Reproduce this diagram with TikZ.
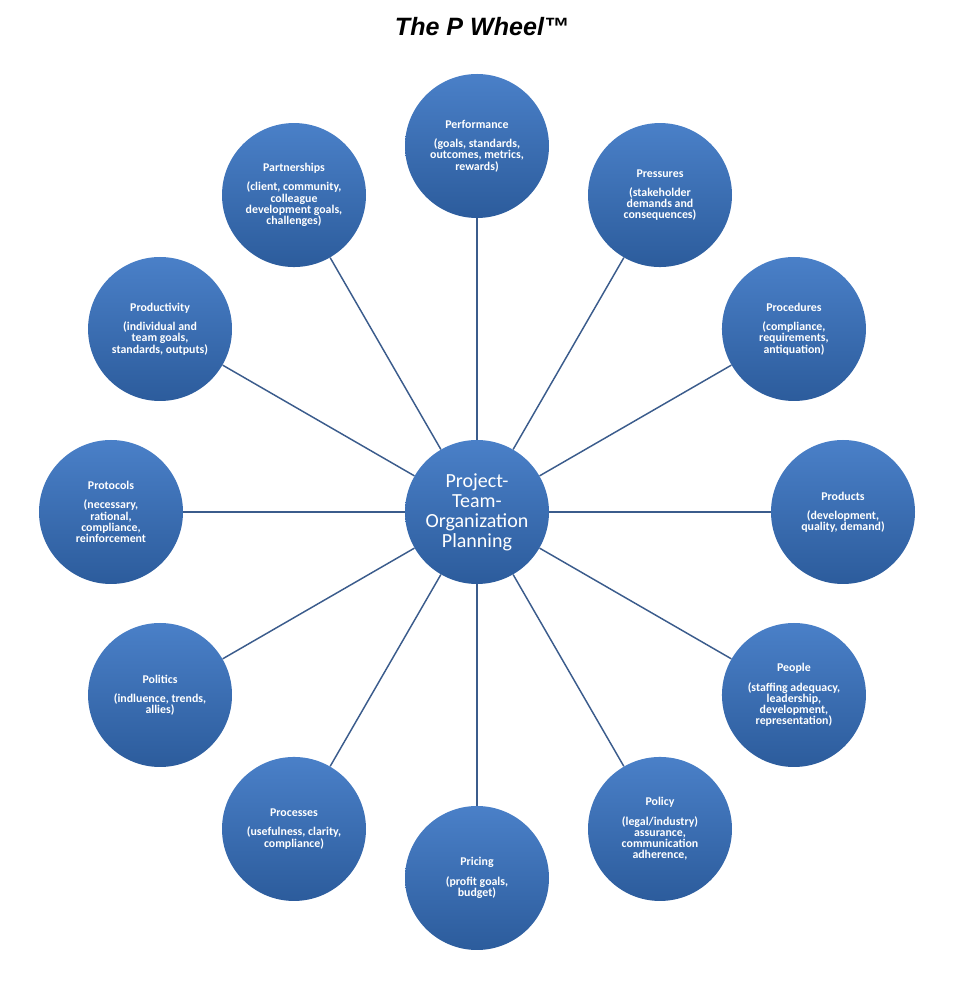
\documentclass[tikz,border=0pt]{standalone}
\usepackage{fontspec}
\setmainfont{Carlito}
\newfontfamily\titlefont{Liberation Sans}
\usetikzlibrary{calc}
\definecolor{rodatopo}{HTML}{4A80C8}
\definecolor{rodabase}{HTML}{2C5C9C}
\definecolor{raiocor}{HTML}{3B5C8C}
\begin{document}
\begin{tikzpicture}[x=0.75pt,y=0.75pt,
  roda/.style={circle, minimum size=108pt, inner sep=0pt, top color=rodatopo,
    bottom color=rodabase, text=white, align=center,
    font=\bfseries\fontsize{8.9}{8.4}\selectfont},
  centro/.style={roda, font=\fontsize{15}{15}\selectfont},
  raio/.style={raiocor, line width=1.1pt}]
  \useasboundingbox (0,0) rectangle (959,983);

  % título
  \node (titulo) at (482,956) {\titlefont\bfseries\itshape\fontsize{18.8}{22}\selectfont The P Wheel™};

  % centro
  \coordinate (O) at (477,471);
  \node[centro] (hub) at (O) {Project-\\Team-\\Organization\\Planning};

  % rodas
  \node[roda] (perf) at ($(O)+(90:366)$) {Performance\\[6pt](goals, standards,\\outcomes, metrics,\\rewards)};
  \node[roda] (press) at ($(O)+(60:366)$) {Pressures\\[6pt](stakeholder\\demands and\\consequences)};
  \node[roda] (proced) at ($(O)+(30:366)$) {Procedures\\[6pt](compliance,\\requirements,\\antiquation)};
  \node[roda] (prod) at ($(O)+(0:366)$) {Products\\[6pt](development,\\quality, demand)};
  \node[roda] (people) at ($(O)+(-30:366)$) {People\\[6pt](staffing adequacy,\\leadership,\\development,\\representation)};
  \node[roda] (policy) at ($(O)+(-60:366)$) {Policy\\[6pt](legal/industry)\\assurance,\\communication\\adherence,};
  \node[roda] (pricing) at ($(O)+(-90:366)$) {Pricing\\[6pt](profit goals,\\budget)};
  \node[roda] (process) at ($(O)+(-120:366)$) {Processes\\[6pt](usefulness, clarity,\\compliance)};
  \node[roda] (politics) at ($(O)+(-150:366)$) {Politics\\[6pt](indluence, trends,\\allies)};
  \node[roda] (protoc) at ($(O)+(180:366)$) {Protocols\\[6pt](necessary,\\rational,\\compliance,\\reinforcement};
  \node[roda] (productiv) at ($(O)+(150:366)$) {Productivity\\[6pt](individual and\\team goals,\\standards, outputs)};
  \node[roda] (partner) at ($(O)+(120:366)$) {Partnerships\\[6pt](client, community,\\colleague\\development goals,\\challenges)};

  % raios
  \foreach \n in {perf,press,proced,prod,people,policy,pricing,process,politics,protoc,productiv,partner}
    \draw[raio] (hub) -- (\n);
\end{tikzpicture}
\end{document}
